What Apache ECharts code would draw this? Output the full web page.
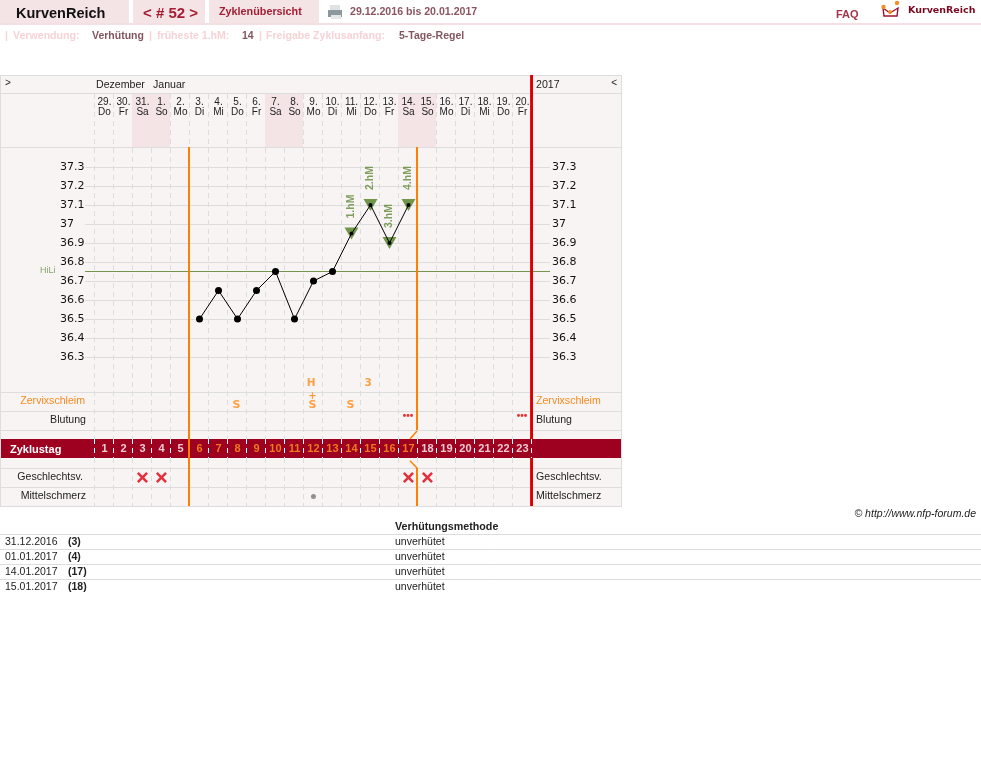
<!DOCTYPE html>
<html><head><meta charset="utf-8">
<style>html,body{margin:0;padding:0;background:#fff}#c{width:981px;height:766px}</style>
<script src="https://cdn.jsdelivr.net/npm/echarts@6/dist/echarts.min.js"></script>
</head><body><div id="c"></div>
<script>
const cycleDays=['1','2','3','4','5','6','7','8','9','10','11','12','13','14','15','16','17','18','19','20','21','22','23'];
const dates=['29.','30.','31.','1.','2.','3.','4.','5.','6.','7.','8.','9.','10.','11.','12.','13.','14.','15.','16.','17.','18.','19.','20.'];
const weekdays=['Do','Fr','Sa','So','Mo','Di','Mi','Do','Fr','Sa','So','Mo','Di','Mi','Do','Fr','Sa','So','Mo','Di','Mi','Do','Fr'];
const temps=[null,null,null,null,null,36.5,36.65,36.5,36.65,36.75,36.5,36.7,36.75,36.95,37.1,36.9,37.1,null,null,null,null,null,null];
const highMarks=[[14,'1.hM'],[15,'2.hM'],[16,'3.hM'],[17,'4.hM']];
const coverLine=36.75;
const orangeDays=[6,7,8,9,10,11,12,13,14,15,16,17];
const mucusMarks=[[8,'S'],[12,'S'],[14,'S']];
const mucusPlus=[[12,'+']];
const cervixMarks=[[12,'H'],[15,'3']];
const bleedingDays=[17,23];
const intercourseDays=[3,4,17,18];
const painDays=[12];
const tableRows=[['31.12.2016','(3)','unverhütet'],['01.01.2017','(4)','unverhütet'],['14.01.2017','(17)','unverhütet'],['15.01.2017','(18)','unverhütet']];

const F='"Liberation Sans",Arial,sans-serif';
const txt=(x,y,t,o={})=>({type:'text',x,y:y+1,silent:true,style:{text:t,font:(o.b?'bold ':'')+(o.i?'italic ':'')+(o.s||11)+'px '+(o.f||F),fill:o.c||'#222',textAlign:o.a||'left',textVerticalAlign:'middle'}});
const rect=(x,y,w,h,c)=>({type:'rect',silent:true,shape:{x,y,width:w,height:h},style:{fill:c}});
const hl=(x1,x2,y,c='#dddddd')=>({type:'line',silent:true,shape:{x1,y1:y,x2,y2:y},style:{stroke:c,lineWidth:1}});
const vl=(x,y1,y2,c='#dddddd')=>({type:'line',silent:true,shape:{x1:x,y1,x2:x,y2},style:{stroke:c,lineWidth:1}});

const back=[
  rect(0,75,621,431,'#f9f4f4'),
  rect(0,439,621,19,'#9e0020'),
  ...[75,93,147,392,411,430,468,487,506].map(y=>hl(0,622,y+.5)),
  vl(.5,75,507),vl(621.5,75,507),
  rect(0,0,129,23,'#f4e4e6'),rect(133,0,72,23,'#f4e4e6'),rect(209,0,110,23,'#f4e4e6'),
  rect(0,23,981,2,'#f4dfe2')
];
back.forEach(e=>e.z=-5);
const fore=[
  txt(16,12.5,'KurvenReich',{b:1,s:14.5,c:'#111'}),
  txt(143,12.5,'< # 52 >',{b:1,s:15,c:'#a51d33'}),
  txt(219,11.5,'Zyklenübersicht',{b:1,s:10.8,c:'#a51d33'}),
  rect(330,5,10,5,'#dfe3e6'),rect(328,10,14,7,'#8d979e'),rect(331,15,10,4,'#e4e7e9'),
  txt(350,11.5,'29.12.2016 bis 20.01.2017',{b:1,s:10.6,c:'#8a5560'}),
  txt(836,13.5,'FAQ',{b:1,s:11,c:'#a3344a'}),
  {type:'polyline',silent:true,shape:{points:[[883,8],[884,16],[897,16],[898,8],[890,13],[883,8]]},style:{stroke:'#a01030',lineWidth:1.4,fill:'none'}},
  {type:'circle',silent:true,shape:{cx:883.5,cy:7,r:2.2},style:{fill:'#f0902a'}},
  {type:'circle',silent:true,shape:{cx:890,cy:12,r:2},style:{fill:'#f0902a'}},
  {type:'circle',silent:true,shape:{cx:897,cy:3,r:2.2},style:{fill:'#f0902a'}},
  txt(908,9.5,'KurvenReich',{b:1,s:9.5,c:'#7a0a20',f:'"DejaVu Sans"'}),
  txt(5,35.5,'|',{b:1,s:10.5,c:'#f6d3d6'}),
  txt(13,35.5,'Verwendung:',{b:1,s:10.6,c:'#f6d3d6'}),
  txt(92,35.5,'Verhütung',{b:1,s:10.5,c:'#835660'}),
  txt(149,35.5,'|',{b:1,s:10.5,c:'#f6d3d6'}),
  txt(157,35.5,'früheste 1.hM:',{b:1,s:10.6,c:'#f6d3d6'}),
  txt(242,35.5,'14',{b:1,s:10.5,c:'#835660'}),
  txt(259,35.5,'|',{b:1,s:10.5,c:'#f6d3d6'}),
  txt(266,35.5,'Freigabe Zyklusanfang:',{b:1,s:10.6,c:'#f6d3d6'}),
  txt(399,35.5,'5-Tage-Regel',{b:1,s:10.5,c:'#835660'}),
  txt(5,82,'>',{s:10}),txt(617,82,'<',{s:10,a:'right'}),
  txt(96,84.5,'Dezember',{s:10.6}),txt(153,84.5,'Januar',{s:10.6}),txt(536,84.5,'2017',{s:10.6}),
  txt(40,269.5,'HiLi',{s:9,c:'#86a56a'}),
  txt(85,400.5,'Zervixschleim',{s:10.6,c:'#f58a1f',a:'right'}),
  txt(86,419.5,'Blutung',{s:10.6,a:'right'}),
  txt(10,448.5,'Zyklustag',{b:1,s:11,c:'#fff'}),
  txt(83,476.5,'Geschlechtsv.',{s:10.6,a:'right'}),
  txt(86,495.5,'Mittelschmerz',{s:10.6,a:'right'}),
  txt(536,400.5,'Zervixschleim',{s:10.6,c:'#f58a1f'}),
  txt(536,419.5,'Blutung',{s:10.6}),
  txt(536,476.5,'Geschlechtsv.',{s:10.6}),
  txt(536,495.5,'Mittelschmerz',{s:10.6}),
  txt(976,513.5,'© http://www.nfp-forum.de',{i:1,s:10.5,a:'right'}),
  txt(395,526.5,'Verhütungsmethode',{b:1,s:10.7})
];
[534,549,564,579].forEach(y=>fore.push(hl(0,981,y+.5,'#dddddd')));
tableRows.forEach((r,i)=>{const y=541.5+15*i;
  fore.push(txt(5,y,r[0],{s:10.5}),txt(68,y,r[1],{b:1,s:10.5}),txt(395,y,r[2],{s:10.5}));});
fore.forEach(e=>e.z=20);

const hidden={axisLine:{show:false},axisTick:{show:false},axisLabel:{show:false},splitLine:{show:false}};
const dashAxis=(grid,color)=>({type:'category',gridIndex:grid,data:cycleDays,axisLine:{show:false},axisTick:{show:false},axisLabel:{show:false},
  splitLine:{show:true,interval:0,lineStyle:{color,width:1,type:[5,4]}}});
const tempLabel={color:'#111',fontFamily:'"DejaVu Sans"',fontSize:11};
const TOP=(75-392)/19;
const rowLine=(pts,color,width)=>({type:'line',xAxisIndex:5,yAxisIndex:6,data:pts,symbol:'none',silent:true,z:4,lineStyle:{color,width,cap:'butt'},clip:false});
const dayX=d=>d-0.45;
const X='path://M1 0 L5 4 L9 0 L11 2 L7 6 L11 10 L9 12 L5 8 L1 12 L-1 10 L3 6 L-1 2 Z';
const labelScatter=(list,y,color,size,dx)=>({type:'scatter',xAxisIndex:5,yAxisIndex:6,symbolSize:0,z:6,silent:true,
  data:list.map(m=>({value:[dayX(m[0])+dx,y],label:{formatter:m[1]}})),
  label:{show:true,position:'inside',color,fontSize:size,fontWeight:'bold',fontFamily:'"DejaVu Sans"'}});

const option={
  animation:false,backgroundColor:'#fff',
  graphic:{elements:[...back,...fore]},
  grid:[
    {left:85,width:465,top:167,height:190},
    {left:95,width:437,top:167,height:190},
    {left:94,width:437,top:94,height:345},
    {left:94,width:437,top:439,height:19},
    {left:95,width:437,top:94,height:53},
    {left:94,width:437,top:75,height:431},
    {left:94,width:437,top:458,height:48},
    {left:94,width:437,top:94,height:53}
  ],
  xAxis:[
    {type:'category',gridIndex:0,boundaryGap:false,data:['a','b'],...hidden},
    {type:'category',gridIndex:1,data:cycleDays,...hidden},
    dashAxis(2,'#dddddd'),
    dashAxis(3,'#ffffff'),
    {type:'category',gridIndex:4,position:'top',z:5,data:dates.map((d,i)=>d+'\n'+weekdays[i]),axisLine:{show:false},axisTick:{show:false},splitLine:{show:false},
      axisLabel:{inside:true,interval:0,margin:3,fontFamily:F,fontSize:10,lineHeight:10,color:'#222',verticalAlign:'top'}},
    {type:'value',gridIndex:5,min:0,max:23,...hidden},
    dashAxis(6,'#dddddd'),
    {type:'category',gridIndex:7,data:cycleDays,...hidden}
  ],
  yAxis:[
    {type:'value',gridIndex:0,min:36.3,max:37.3,interval:0.1,axisLine:{show:false},axisTick:{show:false},
      splitLine:{show:true,lineStyle:{color:'#dddddd',width:1}},
      axisLabel:{...tempLabel,align:'left',margin:25,formatter:v=>String(+v.toFixed(1))}},
    {type:'value',gridIndex:0,position:'right',min:36.3,max:37.3,interval:0.1,axisLine:{show:false},axisTick:{show:false},splitLine:{show:false},
      axisLabel:{...tempLabel,margin:2,formatter:v=>String(+v.toFixed(1))}},
    {type:'value',gridIndex:1,min:36.3,max:37.3,...hidden},
    {type:'value',gridIndex:2,...hidden},
    {type:'value',gridIndex:3,...hidden},
    {type:'value',gridIndex:4,min:0,max:1,...hidden},
    {type:'value',gridIndex:5,inverse:true,min:TOP,max:6,...hidden},
    {type:'value',gridIndex:6,...hidden},
    {type:'value',gridIndex:7,min:0,max:1,...hidden}
  ],
  series:[
    {type:'bar',xAxisIndex:7,yAxisIndex:8,barWidth:'100%',silent:true,z:1,itemStyle:{color:'#f4e4e6'},
      data:weekdays.map(w=>(w==='Sa'||w==='So')?1:null)},
    {type:'line',xAxisIndex:0,yAxisIndex:0,data:[coverLine,coverLine],symbol:'none',silent:true,z:3,lineStyle:{color:'#74934f',width:1}},
    rowLine([[5,(147-392)/19],[5,6]],'#ff8000',2),
    rowLine([[17,(147-392)/19],[17,2]],'#ff8000',2),
    rowLine([[17,2.05],[16.63,2.47]],'#ff8000',1.5),
    rowLine([[16.63,3.62],[17,4]],'#ff8000',1.5),
    rowLine([[17,4],[17,6]],'#ff8000',2),
    rowLine([[23.03,TOP],[23.03,2.47]],'#dd0000',3),
    rowLine([[23.03,3.47],[23.03,6]],'#dd0000',3),
    {type:'scatter',xAxisIndex:1,yAxisIndex:2,symbol:'triangle',symbolRotate:180,symbolSize:[14,12],z:5,silent:true,itemStyle:{color:'#4f7d1e'},
      data:highMarks.map(m=>({value:[m[0]-1,temps[m[0]-1]],label:{formatter:m[1]}})),
      label:{show:true,position:'top',distance:8,offset:[1,0],rotate:90,align:'left',verticalAlign:'middle',color:'#5f8a38',fontSize:10.5,fontWeight:'bold',fontFamily:F}},
    {type:'line',xAxisIndex:1,yAxisIndex:2,data:temps,connectNulls:false,silent:true,z:7,showAllSymbol:true,symbol:'circle',
      symbolSize:(v,p)=>p.dataIndex>=13?4:7,itemStyle:{color:'#000'},lineStyle:{color:'#000',width:1}},
    labelScatter(cervixMarks,-0.47,'#ff8a14',10.5,-0.12),
    labelScatter(mucusMarks,0.67,'#ff8a14',11,-0.05),
    labelScatter(mucusPlus,0.22,'#ff8a14',10,-0.05),
    {type:'scatter',xAxisIndex:5,yAxisIndex:6,symbolSize:0,z:6,silent:true,data:bleedingDays.map(d=>({value:[dayX(d)-0.03,1.25]})),
      label:{show:true,position:'inside',formatter:'•••',color:'#e00000',fontSize:10,fontFamily:F,fontWeight:'bold'}},
    {type:'scatter',xAxisIndex:5,yAxisIndex:6,symbolSize:0,z:8,silent:true,
      data:cycleDays.map(d=>({value:[dayX(+d),3],label:{formatter:d,color:orangeDays.includes(+d)?'#ff9a1e':'#ffffff'}})),
      label:{show:true,position:'inside',fontSize:11,fontWeight:'bold',fontFamily:F}},
    {type:'scatter',xAxisIndex:5,yAxisIndex:6,symbol:X,symbolSize:11,z:6,silent:true,itemStyle:{color:'#d9000f'},data:intercourseDays.map(d=>[dayX(d),4.5])},
    {type:'scatter',xAxisIndex:5,yAxisIndex:6,symbol:'circle',symbolSize:5,z:6,silent:true,itemStyle:{color:'#777'},data:painDays.map(d=>[dayX(d),5.5])}
  ]
};
echarts.init(document.getElementById('c'),null,{renderer:'canvas'}).setOption(option);
</script></body></html>
